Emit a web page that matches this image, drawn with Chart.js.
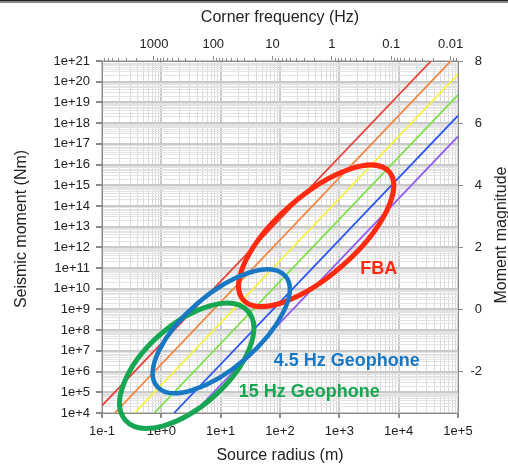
<!DOCTYPE html>
<html>
<head>
<meta charset="utf-8">
<script src="https://cdn.jsdelivr.net/npm/chart.js@4.4.1/dist/chart.umd.min.js"></script>
<style>
  html, body { margin: 0; padding: 0; background: #fff; }
  canvas { display: block; }
  #rule { position: fixed; left: 0; top: 0; width: 508px; height: 1px; background: #222; border-bottom: 2px solid #888; }
</style>
</head>
<body>
<canvas id="momentChart" width="508" height="467"></canvas>
<div id="rule"></div>
<script>
// axis decades and tick labels
const RADIUS_DECADES = [0.1, 1, 10, 100, 1000, 10000, 100000];
const MOMENT_DECADES = [1e4, 1e5, 1e6, 1e7, 1e8, 1e9, 1e10, 1e11, 1e12, 1e13, 1e14, 1e15, 1e16, 1e17, 1e18, 1e19, 1e20, 1e21];
const FREQ_DECADES = [1000, 100, 10, 1, 0.1, 0.01];
const FREQ_LABELS = ['1000', '100', '10', '1', '0.1', '0.01'];
const MAGNITUDE_TICKS = [-2, 0, 2, 4, 6, 8];

// constant stress-drop lines: start/end (source radius m, seismic moment Nm)
const STRESS_LABELS = ['10 MPa', '1 MPa', '0.1 MPa', '0.01 MPa', '1 kPa', '0.1 kPa'];
const LINE_RADIUS = [[0.1, 3.52e4], [0.164, 7.59e4], [0.353, 1e5], [0.76, 1e5], [1.64, 1e5], [3.53, 1e5]];
const LINE_MOMENT = [[2.29e4, 1e21], [1e4, 1e21], [1e4, 2.29e20], [1e4, 2.29e19], [1e4, 2.29e18], [1e4, 2.29e17]];
const STRESS_COLORS = ['#e6443a', '#f4843c', '#f7f23a', '#80e04c', '#2b55ee', '#8f5cf3'];

// sensor ranges: ellipse major-axis tips (radius m, moment Nm) and minor/major ratio
const SENSORS = ['FBA', '15 Hz Geophone', '4.5 Hz Geophone'];
const TIP_LOW_R = [24, 0.249, 0.85];
const TIP_LOW_M = [2.9e9, 4.4e3, 1.9e5];
const TIP_HIGH_R = [6.9e3, 28.8, 123];
const TIP_HIGH_M = [4.5e15, 8.2e8, 4.15e10];
const AXIS_RATIO = [0.41, 0.5, 0.434];
const LABEL_R = [4.6e3, 310, 1.33e3];
const LABEL_M = [9.2e10, 1.05e5, 3.3e6];
const SENSOR_COLORS = ['#ff2a10', '#17a752', '#1878c4'];
const SENSOR_WIDTHS = [5, 5, 4.5];

const FONT = '"Liberation Sans", Arial, sans-serif';
const TEXT = '#222';
const AXIS_LINE = '#8a8a8a';
const CLEAR = 'rgba(0,0,0,0)';

Chart.defaults.font.family = FONT;

const isDecade = v => Math.abs(Math.log10(v) - Math.round(Math.log10(v))) < 1e-6;

// decades plus the 2..9 multiples inside [lo, hi]
function logTicks(decades, lo, hi) {
  const sorted = [...decades].sort((a, b) => a - b);
  const out = [];
  const first = sorted[0] / 10;
  for (let d = first; d <= sorted[sorted.length - 1] * 1.0001; d *= 10) {
    for (let k = 1; k <= 9; k++) {
      const v = d * k;
      if (v >= lo * 0.9999 && v <= hi * 1.0001) out.push({ value: v });
    }
  }
  return out;
}

function expLabel(v) {
  const e = Math.round(Math.log10(v));
  return '1e' + (e < 0 ? '-' : '+') + Math.abs(e);
}

const datasets = STRESS_LABELS.map((label, i) => ({
  label,
  data: [
    { x: LINE_RADIUS[i][0], y: LINE_MOMENT[i][0] },
    { x: LINE_RADIUS[i][1], y: LINE_MOMENT[i][1] }
  ],
  borderColor: STRESS_COLORS[i],
  borderWidth: 1.8,
  showLine: true,
  pointRadius: 0,
  xAxisID: 'x',
  yAxisID: 'y'
}));

const overlay = {
  id: 'overlay',
  afterDraw(chart) {
    const { ctx, chartArea: area, scales } = chart;
    ctx.save();

    // short minor ticks along the corner-frequency axis
    ctx.strokeStyle = AXIS_LINE;
    ctx.lineWidth = 1;
    scales.x2.ticks.forEach(t => {
      if (isDecade(t.value)) return;
      const px = Math.round(scales.x2.getPixelForValue(t.value)) + 0.5;
      ctx.beginPath();
      ctx.moveTo(px, area.top);
      ctx.lineTo(px, area.top - 3);
      ctx.stroke();
    });

    // sensor ellipses
    SENSORS.forEach((name, i) => {
      const x1 = scales.x.getPixelForValue(TIP_LOW_R[i]);
      const y1 = scales.y.getPixelForValue(TIP_LOW_M[i]);
      const x2 = scales.x.getPixelForValue(TIP_HIGH_R[i]);
      const y2 = scales.y.getPixelForValue(TIP_HIGH_M[i]);
      const a = Math.hypot(x2 - x1, y2 - y1) / 2;
      ctx.beginPath();
      ctx.ellipse((x1 + x2) / 2, (y1 + y2) / 2, a, a * AXIS_RATIO[i], Math.atan2(y2 - y1, x2 - x1), 0, Math.PI * 2);
      ctx.strokeStyle = SENSOR_COLORS[i];
      ctx.lineWidth = SENSOR_WIDTHS[i];
      ctx.stroke();
    });

    ctx.font = 'bold 18px ' + FONT;
    ctx.textAlign = 'center';
    ctx.textBaseline = 'middle';
    SENSORS.forEach((name, i) => {
      ctx.fillStyle = SENSOR_COLORS[i];
      ctx.fillText(name, scales.x.getPixelForValue(LABEL_R[i]), scales.y.getPixelForValue(LABEL_M[i]));
    });

    // vertical axis titles, both reading bottom to top
    ctx.font = '16px ' + FONT;
    ctx.fillStyle = TEXT;
    const mid = (area.top + area.bottom) / 2;
    [['Seismic moment (Nm)', 21.5, mid - 8], ['Moment magnitude', area.right + 43.5, mid - 2]].forEach(([text, x, y]) => {
      ctx.save();
      ctx.translate(x, y);
      ctx.rotate(-Math.PI / 2);
      ctx.fillText(text, 0, 0);
      ctx.restore();
    });
    ctx.restore();
  }
};

const tickFont = { size: 13 };

new Chart(document.getElementById('momentChart'), {
  type: 'scatter',
  data: { datasets },
  options: {
    responsive: false,
    animation: false,
    events: [],
    layout: { padding: { left: 0, right: 26, top: 0, bottom: 0 } },
    plugins: { legend: { display: false }, tooltip: { enabled: false } },
    scales: {
      x: {
        type: 'logarithmic', position: 'bottom', min: 0.1, max: 1e5,
        afterBuildTicks: ax => { ax.ticks = logTicks(RADIUS_DECADES, 0.1, 1e5); },
        afterFit: ax => { ax.height = 54; },
        ticks: { autoSkip: false, maxRotation: 0, padding: 6, font: tickFont, color: TEXT,
          callback: v => isDecade(v) ? expLabel(v) : '' },
        grid: {
          color: c => isDecade(c.tick.value) ? '#c9c9c9' : '#dadada',
          lineWidth: c => isDecade(c.tick.value) ? 2 : 1,
          tickColor: c => isDecade(c.tick.value) ? AXIS_LINE : CLEAR,
          tickLength: 5
        },
        border: { color: AXIS_LINE },
        title: { display: true, text: 'Source radius (m)', color: TEXT, font: { size: 16 }, padding: { top: 0, bottom: 2 } }
      },
      x2: {
        type: 'logarithmic', position: 'top', reverse: true, min: 0.0075, max: 7500,
        afterBuildTicks: ax => { ax.ticks = logTicks(FREQ_DECADES, 0.0075, 7500); },
        afterFit: ax => { ax.height = 61; },
        ticks: { autoSkip: false, maxRotation: 0, padding: 4, font: tickFont, color: TEXT,
          callback: v => {
            const i = FREQ_DECADES.findIndex(d => Math.abs(Math.log10(d) - Math.log10(v)) < 1e-6);
            return i < 0 ? '' : FREQ_LABELS[i];
          } },
        grid: {
          drawOnChartArea: false,
          tickColor: c => isDecade(c.tick.value) ? AXIS_LINE : CLEAR,
          tickLength: 5
        },
        border: { color: AXIS_LINE },
        title: { display: true, text: 'Corner frequency (Hz)', color: TEXT, font: { size: 16 }, padding: { top: 8, bottom: 0 } }
      },
      y: {
        type: 'logarithmic', position: 'left', min: 1e4, max: 1e21,
        afterBuildTicks: ax => { ax.ticks = logTicks(MOMENT_DECADES, 1e4, 1e21); },
        afterFit: ax => { ax.width = 102; },
        ticks: { autoSkip: false, padding: 6, font: tickFont, color: TEXT,
          callback: v => isDecade(v) ? expLabel(v) : '' },
        grid: {
          color: c => isDecade(c.tick.value) ? '#c9c9c9' : '#e3e3e3',
          lineWidth: c => isDecade(c.tick.value) ? 2 : 1,
          tickColor: c => isDecade(c.tick.value) ? AXIS_LINE : CLEAR,
          tickLength: 6
        },
        border: { color: AXIS_LINE }
      },
      y2: {
        type: 'linear', position: 'right', min: -10 / 3, max: 8,
        afterBuildTicks: ax => { ax.ticks = MAGNITUDE_TICKS.map(v => ({ value: v })); },
        afterFit: ax => { ax.width = 24; },
        ticks: { crossAlign: 'far', padding: 4, font: tickFont, color: TEXT },
        grid: { drawOnChartArea: false, tickColor: AXIS_LINE, tickLength: 5 },
        border: { color: AXIS_LINE }
      }
    }
  },
  plugins: [overlay]
});
</script>
</body>
</html>
